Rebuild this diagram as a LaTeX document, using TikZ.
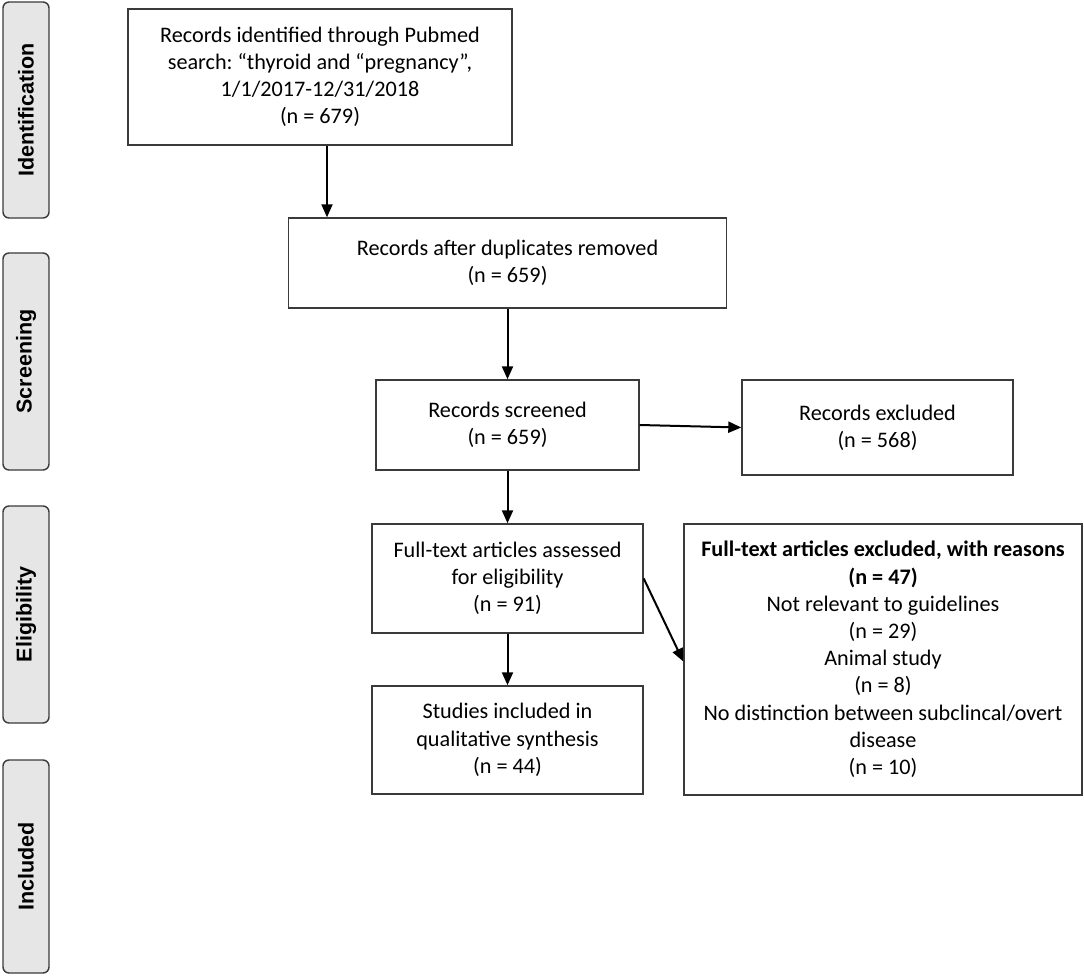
\documentclass[tikz,border=0pt]{standalone}
\usepackage{fontspec}
\setmainfont{Carlito}
\newfontfamily\labelfont{Liberation Sans}
\usetikzlibrary{arrows.meta}
\definecolor{boxline}{HTML}{3A3A3A}
\definecolor{labelfill}{HTML}{E6E6E6}
\frenchspacing
\begin{document}
\begin{tikzpicture}[x=1pt,y=-1pt,
  flowbox/.style={draw=boxline,line width=1.4pt,fill=white,inner sep=0pt,align=center,
    font=\fontsize{22.2}{27.2}\selectfont},
  phase/.style={draw=boxline,line width=1.4pt,fill=labelfill,rounded corners=6pt,rotate=90,
    inner sep=0pt,minimum height=46pt,font=\labelfont\bfseries\fontsize{21.5}{26}\selectfont},
  arr/.style={line width=2pt,-{Triangle[length=13pt,width=11pt]}}]
\useasboundingbox (0,0) rectangle (1084,976);
% phase labels
\node[phase,minimum width=216pt] (pid) at (26,110) {Identification};
\node[phase,minimum width=217pt] (psc) at (26,361.5) {Screening};
\node[phase,minimum width=217pt] (pel) at (26,614.5) {Eligibility};
\node[phase,minimum width=213pt] (pin) at (26,866.5) {Included};
% boxes
\node[flowbox,minimum width=384pt,minimum height=136pt] (b1) at (320,77)
  {Records identified through Pubmed\\search: “thyroid and “pregnancy”,\\1/1/2017-12/31/2018\\(n = 679)};
\node[flowbox,minimum width=438pt,minimum height=90pt] (b2) at (507.5,263)
  {Records after duplicates removed\\(n = 659)};
\node[flowbox,minimum width=263pt,minimum height=90pt] (b3) at (507.5,425)
  {Records screened\\(n = 659)};
\node[flowbox,minimum width=271pt,minimum height=95pt] (b4) at (877.5,427.5)
  {Records excluded\\(n = 568)};
\node[flowbox,minimum width=271pt,minimum height=109pt] (b5) at (507.5,578.5)
  {Full-text articles assessed\\for eligibility\\(n = 91)};
\node[flowbox,minimum width=398pt,minimum height=271pt] (b6) at (883,659.5)
  {\textbf{Full-text articles excluded, with reasons}\\\textbf{(n = 47)}\\Not relevant to guidelines\\(n = 29)\\Animal study\\(n = 8)\\No distinction between subclincal/overt\\disease\\(n = 10)};
\node[flowbox,minimum width=271pt,minimum height=108pt] (b7) at (507.5,740)
  {Studies included in\\qualitative synthesis\\(n = 44)};
% connectors
\draw[arr] ([xshift=7pt]b1.south) -- ([xshift=7pt]b1.south |- b2.north);
\draw[arr] (b2.south) -- (b3.north);
\draw[arr] (b3.east) -- (b4.west);
\draw[arr] (b3.south) -- (b5.north);
\draw[arr] (b5.east) -- ([yshift=-2pt]b6.west);
\draw[arr] (b5.south) -- (b7.north);
\end{tikzpicture}
\end{document}
